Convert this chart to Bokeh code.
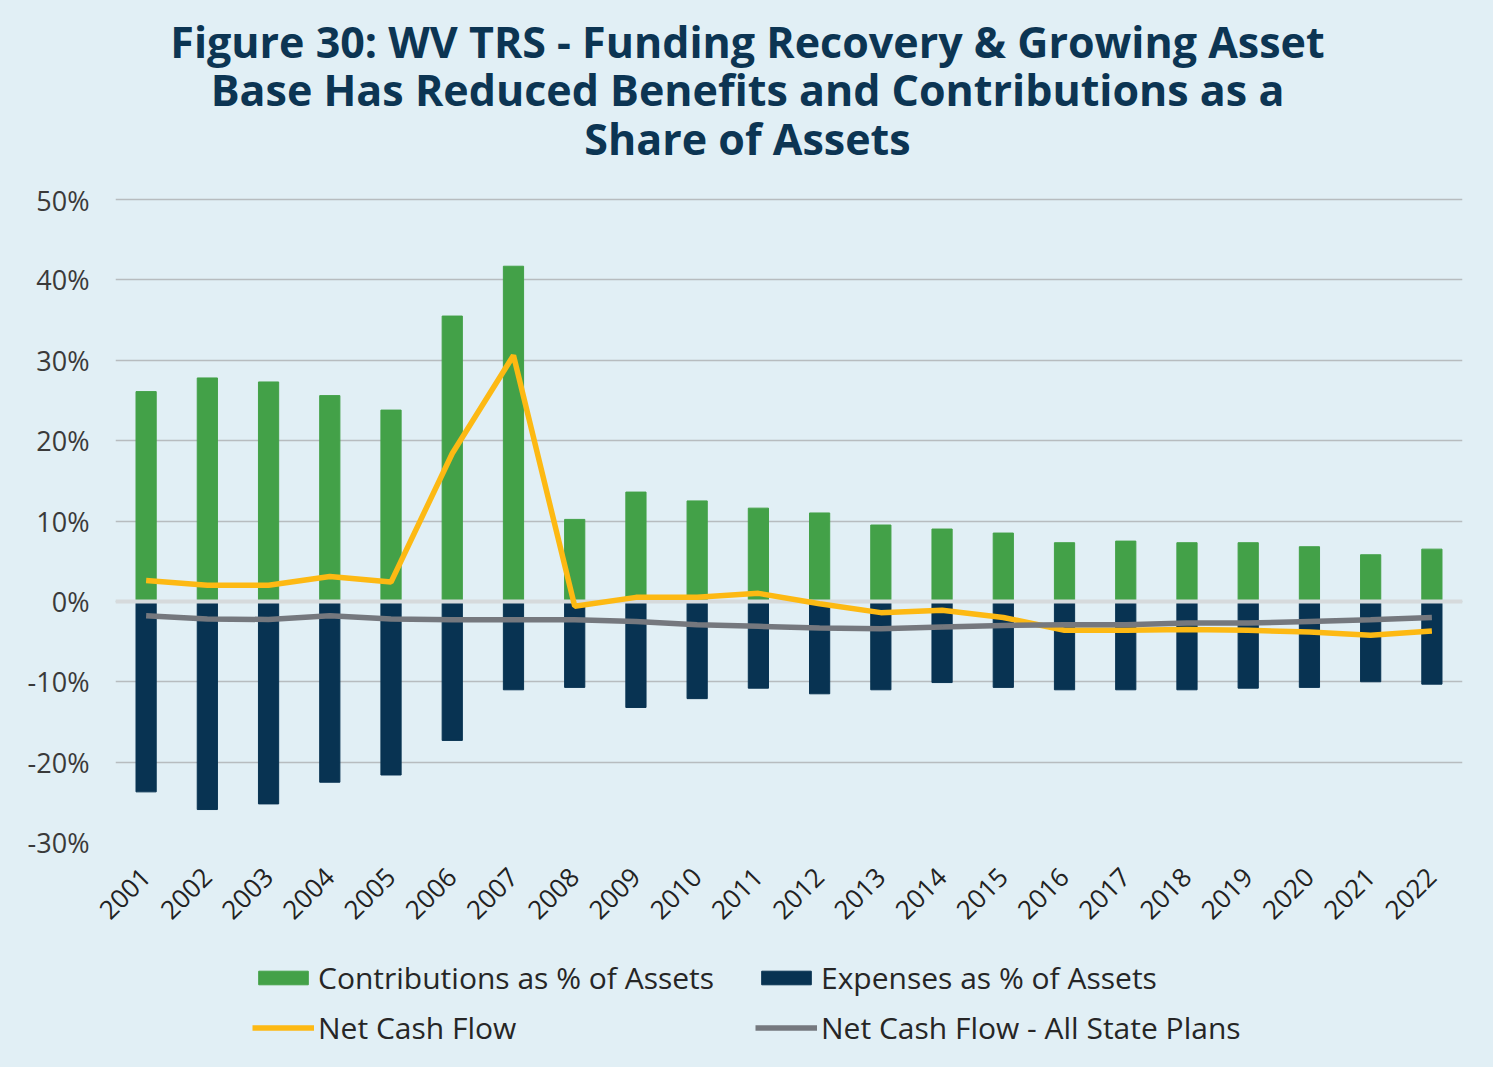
import math
from bokeh.plotting import figure
from bokeh.layouts import column
from bokeh.models import Legend, LegendItem, Label, FactorRange, Range1d, FixedTicker, CustomJSTickFormatter
from bokeh.embed import file_html
from bokeh.resources import INLINE

years = [str(y) for y in range(2001, 2023)]
contributions = [26.1, 27.8, 27.3, 25.6, 23.8, 35.5, 41.7, 10.2, 13.6, 12.5, 11.6,
                 11.0, 9.5, 9.0, 8.5, 7.3, 7.5, 7.3, 7.3, 6.8, 5.8, 6.5]
expenses = [-23.7, -25.9, -25.2, -22.5, -21.6, -17.3, -11.0, -10.7, -13.2, -12.1, -10.8,
            -11.5, -11.0, -10.1, -10.7, -11.0, -11.0, -11.0, -10.8, -10.7, -10.0, -10.3]
net_cash_flow = [2.6, 2.0, 2.0, 3.1, 2.4, 18.4, 30.6, -0.6, 0.5, 0.5, 1.0,
                 -0.3, -1.4, -1.1, -2.0, -3.6, -3.6, -3.5, -3.6, -3.8, -4.2, -3.7]
all_state_plans = [-1.8, -2.2, -2.25, -1.8, -2.2, -2.3, -2.3, -2.3, -2.5, -2.9, -3.1,
                   -3.3, -3.4, -3.2, -3.0, -2.9, -2.9, -2.7, -2.7, -2.5, -2.3, -2.0]
y_ticks = [-30, -20, -10, 0, 10, 20, 30, 40, 50]
title_lines = ["Figure 30: WV TRS - Funding Recovery & Growing Asset",
               "Base Has Reduced Benefits and Contributions as a",
               "Share of Assets"]
legend_labels = ["Contributions as % of Assets", "Expenses as % of Assets",
                 "Net Cash Flow", "Net Cash Flow - All State Plans"]

BG = "#e1eff5"
GREEN = "#43a148"
NAVY = "#083352"
YELLOW = "#fdb913"
GRAY = "#75787e"
FONT = "Open Sans"
W = 1493


def blank(height):
    f = figure(width=W, height=height, x_range=Range1d(0, 1), y_range=Range1d(0, 1),
               output_backend="svg", toolbar_location=None,
               x_axis_location=None, y_axis_location=None,
               min_border_left=0, min_border_right=0, min_border_top=0, min_border_bottom=0)
    f.background_fill_color = BG
    f.border_fill_color = BG
    f.outline_line_color = None
    f.grid.grid_line_color = None
    return f


# ---- title panel (frame is aligned with the chart frame: left edge at 115px) ----
top = blank(181)
for line, yb in zip(title_lines, [140, 92, 43]):
    top.add_layout(Label(x=632, y=yb, x_units="screen", y_units="screen", text=line,
                         text_font=FONT, text_font_style="bold", text_font_size="43px",
                         text_color="#0c3553", text_align="center", text_baseline="alphabetic"))

# ---- main chart ----
p = figure(width=W, height=769, x_range=FactorRange(*years), y_range=Range1d(-30, 50.25),
           output_backend="svg", toolbar_location=None,
           min_border_left=115, min_border_right=31, min_border_top=16, min_border_bottom=108)
p.background_fill_color = BG
p.border_fill_color = BG
p.outline_line_color = None

p.vbar(x=years, top=contributions, bottom=0, width=0.33, color=GREEN)
p.vbar(x=years, top=0, bottom=expenses, width=0.33, color=NAVY)
p.hspan(y=[0], line_color="#d6dadc", line_width=4)
p.line(x=years, y=net_cash_flow, line_color=YELLOW, line_width=5.5)
p.line(x=years, y=all_state_plans, line_color=GRAY, line_width=5.5)

p.xgrid.grid_line_color = None
p.ygrid.grid_line_color = "#b7bcbf"
p.ygrid.grid_line_width = 1.5
p.yaxis.ticker = FixedTicker(ticks=y_ticks)
p.yaxis.formatter = CustomJSTickFormatter(code="return tick.toFixed(0) + '%';")
for ax in (p.xaxis[0], p.yaxis[0]):
    ax.axis_line_color = None
    ax.major_tick_line_color = None
    ax.minor_tick_line_color = None
    ax.major_label_text_font = FONT
p.yaxis.major_label_text_font_size = "27px"
p.yaxis.major_label_text_color = "#3a3a3a"
p.yaxis.major_label_standoff = 20
p.xaxis.major_label_text_font_size = "26px"
p.xaxis.major_label_text_color = "#222222"
p.xaxis.major_label_orientation = math.pi / 4
p.xaxis.major_label_standoff = 24

# ---- legend panel ----
leg = blank(117)
sw_c = leg.vbar(x=[-5], top=[-4], bottom=[-5], width=0.3, color=GREEN)
sw_e = leg.vbar(x=[-5], top=[-4], bottom=[-5], width=0.3, color=NAVY)
sw_n = leg.line(x=[-5, -4], y=[-5, -4], line_color=YELLOW, line_width=5.5)
sw_a = leg.line(x=[-5, -4], y=[-5, -4], line_color=GRAY, line_width=5.5)

rows = [([sw_c, sw_e], legend_labels[0:2], 69), ([sw_n, sw_a], legend_labels[2:4], 19)]
for rends, labels, yb in rows:
    lg = Legend(items=[LegendItem(label=lab, renderers=[r]) for lab, r in zip(labels, rends)],
                location=(137, yb), orientation="horizontal",
                glyph_width=62, glyph_height=17, label_standoff=4, label_width=437, spacing=0)
    lg.padding = 0
    lg.margin = 0
    lg.border_line_color = None
    lg.background_fill_alpha = 0
    lg.label_text_font = FONT
    lg.label_text_font_size = "30px"
    lg.label_text_color = "#262626"
    lg.label_height = 30
    leg.add_layout(lg, "center")

layout = column(top, p, leg, spacing=0, styles={"background-color": BG})
open("out.html", "w").write(file_html(layout, INLINE))
